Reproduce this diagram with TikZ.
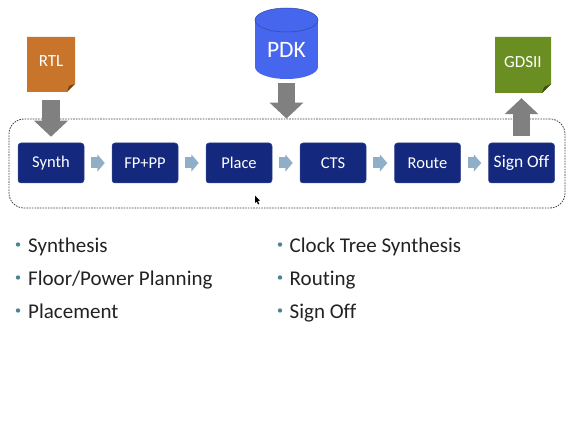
\documentclass[tikz,border=0pt]{standalone}
\usepackage{fontspec}
\setmainfont[Ligatures=NoCommon]{Carlito}
\usetikzlibrary{arrows.meta}
\definecolor{stepblue}{HTML}{14297E}
\definecolor{flowblue}{HTML}{8FAFC8}
\definecolor{rtlorange}{HTML}{C8742A}
\definecolor{gdsgreen}{HTML}{6B8E23}
\definecolor{pdkblue}{HTML}{4766EE}
\definecolor{bigarrow}{HTML}{808080}
\definecolor{bulletcol}{HTML}{4A8296}
\definecolor{bodytext}{HTML}{222222}
\tikzset{
  x=1pt,y=-1pt,
  stepbox/.style={draw=stepblue!85!white,line width=.5pt,fill=stepblue,rounded corners=3pt,text=white,font=\fontsize{16.5}{18}\selectfont,minimum width=66pt,minimum height=40pt,inner sep=0pt},
  flowarrow/.style={draw=flowblue,line width=11pt,-{Triangle[length=7.5pt,width=17pt]},shorten <=7pt,shorten >=7pt},
  bigflow/.style={draw=bigarrow,line width=17.5pt,-{Triangle[length=16pt,width=33pt]}},
  doc/.style={inner sep=0pt,text=white,font=\fontsize{17}{18}\selectfont,anchor=center},
  item/.style={anchor=base west,inner sep=0pt,text=bodytext,font=\fontsize{21}{23}\selectfont},
  dot/.style={circle,fill=bulletcol,inner sep=0pt,minimum size=4.4pt}
}
\begin{document}
\begin{tikzpicture}
\useasboundingbox[fill=white] (0,0) rectangle (571,441);
% dashed frame
\node[draw=black!75,dash pattern=on 1.6pt off 1.1pt,line width=.8pt,rounded corners=15pt,minimum width=556pt,minimum height=89pt,inner sep=0pt] (frame) at (287,163.5) {};
% steps
\node[stepbox] (synth) at (51,163) {Synth};
\node[stepbox] (fp) at (145,163) {FP+PP};
\node[stepbox] (place) at (239,163) {Place};
\node[stepbox] (cts) at (333,163) {CTS};
\node[stepbox] (route) at (427.5,163) {Route};
\node[stepbox] (signoff) at (521.5,163) {\fontsize{17.5}{18}\selectfont Sign Off};
\draw[flowarrow] (synth) -- (fp);
\draw[flowarrow] (fp) -- (place);
\draw[flowarrow] (place) -- (cts);
\draw[flowarrow] (cts) -- (route);
\draw[flowarrow] (route) -- (signoff);
% RTL document
\fill[rtlorange] (27,37) -- (75,37) -- (75,84) -- (67,92) -- (27,92) -- cycle;
\fill[rtlorange!55!black] (75,84) -- (69,86) -- (67,92) -- cycle;
\node[doc,minimum width=48pt,minimum height=55pt] (rtl) at (51,64.5) {\raisebox{6pt}{RTL}};
% GDSII document
\fill[gdsgreen] (495,37) -- (551,37) -- (551,84) -- (542,93) -- (495,93) -- cycle;
\fill[gdsgreen!55!black] (551,84) -- (544,87) -- (542,93) -- cycle;
\node[doc,minimum width=56pt,minimum height=56pt] (gds) at (523,65) {\raisebox{6pt}{GDSII}};
% PDK cylinder
\fill[pdkblue] (255,20) rectangle (318,67);
\fill[pdkblue] (286.5,67) ellipse [x radius=31.5,y radius=12];
\fill[pdkblue] (286.5,20) ellipse [x radius=31.5,y radius=12];
\draw[pdkblue!70!black,line width=.5pt] (286.5,20) ellipse [x radius=31.5,y radius=12];
\node[inner sep=0pt,minimum width=63pt,minimum height=71pt] (pdk) at (286.5,43.5) {};
\node[inner sep=0pt,text=white,font=\fontsize{23.5}{25}\selectfont] (pdklabel) at (286.5,49.5) {PDK};
% big arrows
\draw[bigflow,shorten <=4pt] (pdk.south) -- (pdk.south |- frame.north);
\draw[bigflow,shorten <=8pt,shorten >=6pt] (rtl.south) -- (synth.north);
\draw[bigflow,shorten <=7pt,shorten >=5pt] (signoff.north) -- (signoff.north |- gds.south);
% bullet lists
\node[dot] (b1) at (18,244.5) {};
\node[dot] (b2) at (18,277.5) {};
\node[dot] (b3) at (18,310.5) {};
\node[dot] (b4) at (280,244.5) {};
\node[dot] (b5) at (280,277.5) {};
\node[dot] (b6) at (280,310.5) {};
\node[item] (t1) at (28,252) {Synthesis};
\node[item] (t2) at (28,285) {Floor/Power Planning};
\node[item] (t3) at (28,318) {Placement};
\node[item] (t4) at (289.5,252) {Clock Tree Synthesis};
\node[item] (t5) at (289.5,285) {Routing};
\node[item] (t6) at (289.5,318) {Sign Off};
% mouse pointer
\fill[black] (255,195.5) -- (255,203) -- (256.8,201.6) -- (258,204.5) -- (259.2,204) -- (258,201) -- (260,200.6) -- cycle;
\end{tikzpicture}
\end{document}
